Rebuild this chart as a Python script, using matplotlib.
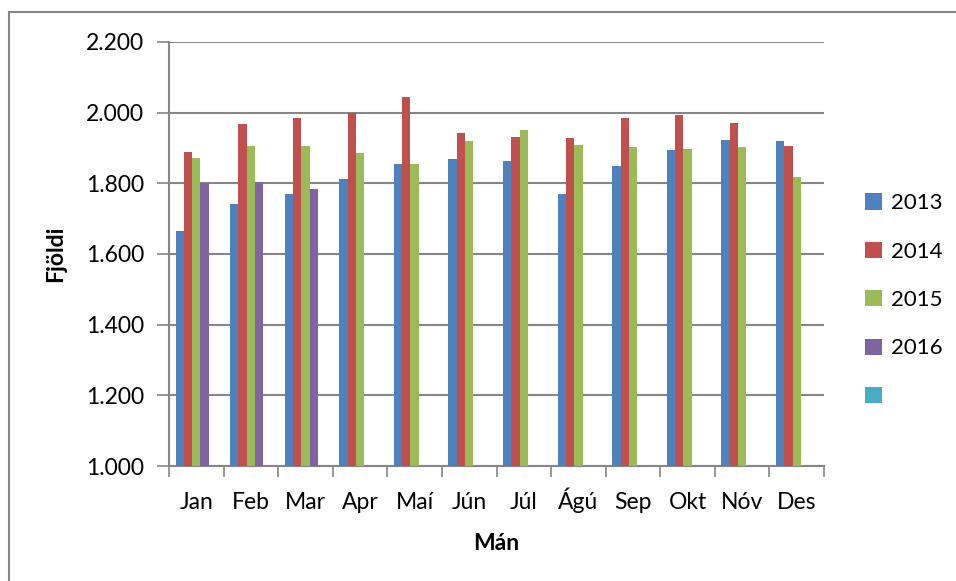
import numpy as np
import matplotlib
matplotlib.use("Agg")
import matplotlib.pyplot as plt
from matplotlib.patches import Rectangle, Patch

plt.rcParams['font.family'] = ['Lato', 'DejaVu Sans']

# gögn lesin af myndinni
manudir = ["Jan", "Feb", "Mar", "Apr", "Maí", "Jún", "Júl", "Ágú", "Sep", "Okt", "Nóv", "Des"]
ar_2013 = [1666, 1742, 1769, 1811, 1856, 1868, 1864, 1769, 1849, 1894, 1924, 1921]
ar_2014 = [1889, 1967, 1985, 2000, 2043, 1943, 1932, 1928, 1985, 1992, 1970, 1905]
ar_2015 = [1871, 1905, 1905, 1887, 1856, 1921, 1951, 1909, 1902, 1898, 1902, 1818]
ar_2016 = [1800, 1804, 1784, np.nan, np.nan, np.nan, np.nan, np.nan, np.nan, np.nan, np.nan, np.nan]
ar_tomt = [np.nan] * 12
y_ticks = [1000, 1200, 1400, 1600, 1800, 2000, 2200]

serir = [ar_2013, ar_2014, ar_2015, ar_2016, ar_tomt]
nofn = ["2013", "2014", "2015", "2016", ""]
litir = ["#4F81BD", "#C0504D", "#9BBB59", "#8064A2", "#4BACC6"]

W, H = 956, 581
fig = plt.figure(figsize=(W / 100, H / 100), dpi=100)
ax = fig.add_axes([169 / W, 1 - 466 / H, (824 - 169) / W, (466 - 42) / H])

x = np.arange(len(manudir))
bw = 0.152
for i, (s, c) in enumerate(zip(serir, litir)):
    ax.bar(x + (i - 2) * bw, np.array(s, dtype=float) - 1000, bw, bottom=1000,
           color=c, zorder=3)

grar = "#868686"
fs = 16.5
ax.set_ylim(1000, 2200)
ax.set_xlim(-0.5, 11.5)
ax.set_yticks(y_ticks)
ax.set_yticklabels([f"{v:,.0f}".replace(",", ".") for v in y_ticks])
ax.yaxis.grid(True, color=grar, linewidth=1.5, zorder=0)
ax.tick_params(axis="y", length=9, width=1.2, color=grar, labelsize=fs, pad=9)

ax.set_xticks(np.arange(-0.5, 12, 1))
ax.set_xticklabels([])
ax.set_xticks(x, minor=True)
ax.set_xticklabels(manudir, minor=True)
ax.tick_params(axis="x", which="major", length=8, width=1.2, color=grar)
ax.tick_params(axis="x", which="minor", length=0, labelsize=fs, pad=31)
for lbl in ax.get_xticklabels(minor=True):
    lbl.set_verticalalignment("baseline")

for k in ["top", "right"]:
    ax.spines[k].set_visible(False)
for k in ["left", "bottom"]:
    ax.spines[k].set_color(grar)
    ax.spines[k].set_linewidth(1.5)

ax.set_ylabel("Fjöldi", fontsize=fs, fontweight="bold", labelpad=14)
ax.set_xlabel("Mán", fontsize=fs, fontweight="bold", labelpad=14)

handles = [Patch(facecolor=c) for c in litir]
fig.legend(handles, nofn, loc="center left", bbox_to_anchor=(865 / W, 1 - 300 / H),
           frameon=False, fontsize=16, handlelength=0.75, handleheight=0.75,
           handletextpad=0.4, labelspacing=1.28, borderpad=0, borderaxespad=0)

# rammi utan um myndina
fig.add_artist(Rectangle((8.5 / W, -0.1), 1.2, 1.1 - 12 / H, transform=fig.transFigure,
                         fill=False, edgecolor=grar, linewidth=1.5))

fig.savefig("out.png", dpi=100)
